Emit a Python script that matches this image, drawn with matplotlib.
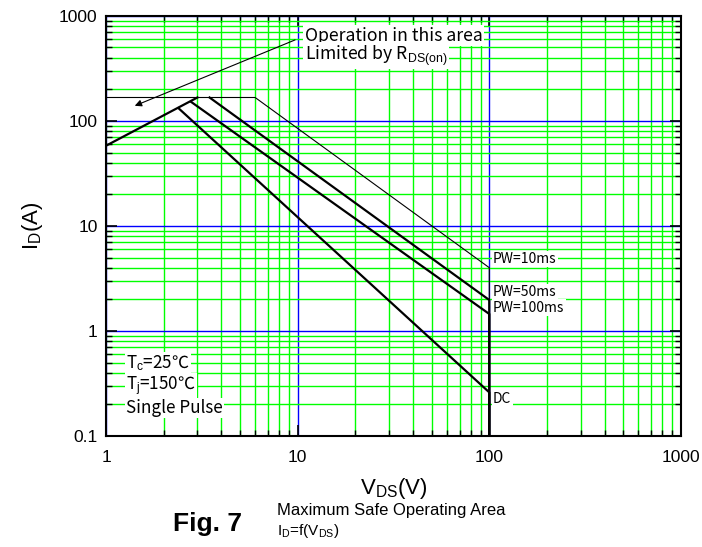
import matplotlib
matplotlib.use("Agg")
import matplotlib.pyplot as plt
from matplotlib.ticker import LogLocator, FixedLocator, FixedFormatter, NullFormatter

plt.rcParams['font.family'] = ['Liberation Sans', 'DejaVu Sans']
plt.rcParams['mathtext.fontset'] = 'custom'
plt.rcParams['mathtext.rm'] = 'Liberation Sans'
plt.rcParams['mathtext.it'] = 'Liberation Sans:italic'
plt.rcParams['mathtext.bf'] = 'Liberation Sans:bold'

# curves
pw10_v = [1, 6, 100, 100]
pw10_i = [167, 167, 4.0, 0.1]
rds_v = [1, 3.0]
rds_i = [58, 167]
pw50_v = [3.47, 100, 100]
pw50_i = [167, 1.97, 0.1]
pw100_v = [2.79, 100, 100]
pw100_i = [151, 1.45, 0.1]
dc_v = [2.39, 100, 100]
dc_i = [132, 0.26, 0.1]

yticks = [0.1, 1, 10, 100, 1000]
ytick_labels = ['0.1', '1', '10', '100', '1000']
xticks = [1, 10, 100, 1000]
xtick_labels = ['1', '10', '100', '1000']

jp = ['Noto Sans CJK JP', 'DejaVu Sans']
white = dict(facecolor='white', edgecolor='none', pad=1.0)

fig = plt.figure(figsize=(7.02, 5.47), dpi=100)
ax = fig.add_axes([0.151, 0.203, 0.819, 0.768])
ax.set_xscale('log')
ax.set_yscale('log')
ax.set_xlim(1, 1000)
ax.set_ylim(0.1, 1000)

ax.xaxis.set_major_locator(FixedLocator(xticks))
ax.xaxis.set_major_formatter(FixedFormatter(xtick_labels))
ax.yaxis.set_major_locator(FixedLocator(yticks))
ax.yaxis.set_major_formatter(FixedFormatter(ytick_labels))
ax.xaxis.set_minor_locator(LogLocator(base=10, subs=range(2, 10)))
ax.yaxis.set_minor_locator(LogLocator(base=10, subs=range(2, 10)))
ax.xaxis.set_minor_formatter(NullFormatter())
ax.yaxis.set_minor_formatter(NullFormatter())

ax.set_axisbelow(True)
ax.grid(which='minor', color='#00ff00', lw=1.0)
ax.grid(which='major', color='#0000ff', lw=1.0)

ax.tick_params(which='both', direction='in', top=True, right=True, color='black')
ax.tick_params(which='major', length=8, width=1.2, labelsize=12.5)
ax.tick_params(which='minor', length=4, width=1.0)
ax.tick_params(axis='x', pad=10)
ax.tick_params(axis='y', pad=6)
for s in ax.spines.values():
    s.set_linewidth(1.5)

ax.plot(pw10_v, pw10_i, color='black', lw=0.8, zorder=3)
ax.plot(rds_v, rds_i, color='black', lw=1.6, zorder=3)
ax.plot(pw50_v, pw50_i, color='black', lw=1.6, zorder=3)
ax.plot(pw100_v, pw100_i, color='black', lw=1.6, zorder=3)
ax.plot(dc_v, dc_i, color='black', lw=1.6, zorder=3)

ax.set_xlabel(r'V$_{\mathrm{DS}}$(V)', fontsize=16, labelpad=8)
ax.set_ylabel(r'I$_{\mathrm{D}}$(A)', fontsize=16, labelpad=10)

# curve labels
ax.text(104.5, 4.85, 'PW=10ms', family=jp, fontsize=10, va='center', bbox=white, zorder=4)
ax.text(104.5, 2.35, 'PW=50ms', family=jp, fontsize=10, va='center', bbox=white, zorder=4)
ax.text(104.5, 1.66, 'PW=100ms', family=jp, fontsize=10, va='center', bbox=white, zorder=4)
ax.text(104.5, 0.225, 'DC', family=jp, fontsize=10, va='center', bbox=white, zorder=4)

ax.text(1.27, 0.495, r'T$_{\mathrm{c}}$=25℃', family=jp, fontsize=12.3, va='center', bbox=white, zorder=4)
ax.text(1.27, 0.30, r'T$_{\mathrm{j}}$=150℃', family=jp, fontsize=12.3, va='center', bbox=white, zorder=4)
ax.text(1.27, 0.185, 'Single Pulse', family=jp, fontsize=12.3, va='center', bbox=white, zorder=4)

ax.text(10.9, 645, 'Operation in this area', family=jp, fontsize=12.7, va='center', bbox=white, zorder=4)
ax.text(10.9, 416, r'Limited by R$_{\mathrm{DS(on)}}$', family=jp, fontsize=12.7, va='center', bbox=white, zorder=4)
ax.annotate('', xy=(1.37, 136), xytext=(10, 604),
            arrowprops=dict(arrowstyle='-|>', color='black', lw=0.8, mutation_scale=10), zorder=4)

fig.text(0.2464, 0.042, 'Fig. 7', fontsize=19, fontweight='bold', va='center')
fig.text(0.3946, 0.0660, 'Maximum Safe Operating Area', fontsize=12, va='center')
fig.text(0.3946, 0.029, r'I$_{\mathrm{D}}$=f(V$_{\mathrm{DS}}$)', fontsize=11, va='center')

fig.savefig('out.png', dpi=100)
